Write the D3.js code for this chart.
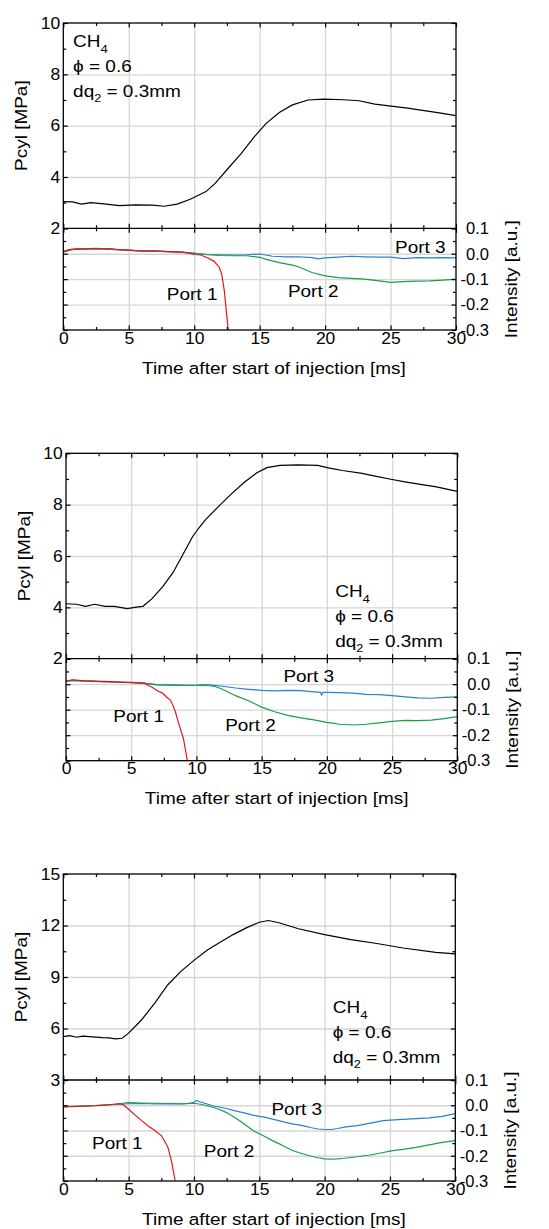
<!DOCTYPE html>
<html>
<head>
<meta charset="utf-8">
<script src="https://cdn.jsdelivr.net/npm/d3@7"></script>
<style>
body { margin: 0; background: #fff; }
svg { display: block; background: #fff; }
svg text { font-family: "Liberation Sans", Arial, sans-serif; font-size: 16.5px; fill: #000; white-space: pre; }
.grid line { stroke: #d6d6d6; stroke-width: 1.3; }
.ticks line { stroke: #000; stroke-width: 1.2; }
</style>
</head>
<body>
<script>
// ---- tick values ----
var timeTicks = [0, 5, 10, 15, 20, 25, 30];
var timeMinor = [2.5, 7.5, 12.5, 17.5, 22.5, 27.5];
var timeGrid = [5, 10, 15, 20, 25];
var pTicksA = [2, 4, 6, 8, 10], pMinorA = [3, 5, 7, 9], pGridA = [4, 6, 8];
var pTicksB = [3, 6, 9, 12, 15], pMinorB = [4.5, 7.5, 10.5, 13.5], pGridB = [6, 9, 12];
var iTicks = [0.1, 0, -0.1, -0.2, -0.3], iMinor = [0.05, -0.05, -0.15, -0.25], iGrid = [0, -0.1, -0.2];
var portNames = ["Port 1", "Port 2", "Port 3"];

// ---- panel 1 ----
var t_pcyl1 = [0,0.7,1.4,2.1,3.1,4.3,5.5,6.8,7.7,8.7,9.7,10.9,11.6,12.6,13.6,14.6,15.5,16.5,17.5,18.7,19.9,21.4,22.6,23.8,26.3,28.6,30];
var pcyl1 = [3.04,3.03,2.94,3.0,2.95,2.88,2.91,2.9,2.86,2.94,3.13,3.43,3.75,4.34,4.92,5.57,6.09,6.51,6.81,7.0,7.03,7.01,6.97,6.84,6.68,6.51,6.39];
var t_port1_1 = [0,0.5,1,1.5,2,2.5,3,3.5,4,5,6,7,8,9,9.5,10,10.5,11,11.5,11.9,12.1,12.3,12.45,12.6];
var port1_1 = [0.008,0.016,0.019,0.018,0.02,0.021,0.019,0.02,0.017,0.014,0.01,0.011,0.008,0.006,0.003,-0.003,-0.005,-0.016,-0.029,-0.052,-0.08,-0.145,-0.223,-0.3];
var t_port2_1 = [0,0.5,1,2,3,4,5,6,7,8,9,10,11,12,13,14,15,15.5,16.5,17.5,18,19,20,21,22,23,24,25,26,27,28,29,30];
var port2_1 = [0.01,0.016,0.018,0.02,0.019,0.016,0.013,0.011,0.01,0.008,0.006,0.001,-0.004,-0.007,-0.008,-0.008,-0.014,-0.022,-0.035,-0.045,-0.052,-0.074,-0.087,-0.094,-0.097,-0.1,-0.106,-0.113,-0.11,-0.108,-0.107,-0.104,-0.1];
var t_port3_1 = [0,0.5,1,2,3,4,5,6,7,8,9,10,11,12,13,14,15,16,17,18,19,19.5,20,21,22,23,24,25,26,27,28,29,30];
var port3_1 = [0.006,0.014,0.018,0.02,0.019,0.017,0.014,0.011,0.01,0.008,0.006,0.002,-0.003,-0.004,-0.005,-0.004,-0.001,-0.01,-0.012,-0.012,-0.015,-0.02,-0.016,-0.013,-0.01,-0.012,-0.013,-0.013,-0.019,-0.015,-0.016,-0.015,-0.016];

// ---- panel 2 ----
var t_pcyl2 = [0,0.8,1.5,2.2,3.0,3.7,4.7,5.4,5.9,6.6,7.4,8.2,8.9,9.7,10.2,10.7,11.7,12.7,13.7,14.6,15.4,16.4,17.8,19.3,20.2,21.2,22.7,23.6,24.9,26.1,27.3,28.4,30];
var pcyl2 = [4.14,4.12,4.04,4.12,4.04,4.04,3.95,4.01,4.04,4.34,4.8,5.35,6.0,6.75,7.1,7.42,7.93,8.43,8.88,9.23,9.44,9.53,9.55,9.53,9.42,9.33,9.22,9.12,8.99,8.88,8.78,8.69,8.52];
var t_port1_2 = [0,0.5,1,1.5,2,2.5,3,4,5,5.5,6,6.2,6.6,7,7.4,7.7,8.0,8.2,8.4,8.6,8.8,9.0,9.15,9.3];
var port1_2 = [0.012,0.017,0.015,0.013,0.012,0.01,0.011,0.008,0.007,0.006,0.004,-0.002,-0.012,-0.026,-0.035,-0.05,-0.062,-0.084,-0.11,-0.148,-0.18,-0.213,-0.255,-0.3];
var t_port2_2 = [0,0.5,1,2,3,4,5,6,7,8,9,10,11,11.5,12,13,14,15,16,17,18,19,20,21,22,23,24,25,26,27,28,29,30];
var port2_2 = [0.012,0.015,0.014,0.012,0.01,0.008,0.006,0.004,-0.002,-0.003,-0.004,-0.005,-0.006,-0.01,-0.02,-0.045,-0.065,-0.09,-0.108,-0.122,-0.132,-0.14,-0.15,-0.157,-0.16,-0.157,-0.152,-0.146,-0.142,-0.143,-0.141,-0.135,-0.127];
var t_port3_2 = [0,0.5,1,2,3,4,5,6,7,8,9,10,10.5,11,12,13,14,15,16,17,18,19,19.5,19.6,19.7,20,21,22,23,24,25,26,27,28,29,30];
var port3_2 = [0.012,0.015,0.013,0.012,0.01,0.008,0.006,0.003,-0.003,-0.004,-0.005,-0.004,-0.002,-0.003,-0.008,-0.015,-0.02,-0.024,-0.026,-0.024,-0.025,-0.03,-0.032,-0.042,-0.032,-0.032,-0.033,-0.035,-0.04,-0.041,-0.045,-0.05,-0.054,-0.055,-0.052,-0.05];

// ---- panel 3 ----
var t_pcyl3 = [0,0.5,1,1.5,2,2.5,3,3.5,4,4.5,5,6,7,8,9,10,11,12,13,14,15,15.7,16.5,18,20,22,24,26,28.5,30];
var pcyl3 = [5.53,5.58,5.49,5.55,5.53,5.5,5.47,5.45,5.4,5.43,5.73,6.51,7.48,8.55,9.33,9.97,10.56,11.03,11.47,11.86,12.19,12.29,12.16,11.81,11.47,11.18,10.95,10.69,10.44,10.35];
var t_port1_3 = [0,0.5,1,1.5,2,2.5,3,3.5,4,4.3,4.6,5,5.5,6,6.5,7,7.5,8,8.3,8.56];
var port1_3 = [-0.008,-0.006,-0.005,-0.004,-0.003,-0.002,0,0.002,0.005,0.006,0.002,-0.016,-0.039,-0.061,-0.082,-0.1,-0.12,-0.165,-0.225,-0.3];
var t_port2_3 = [0,1,2,3,4,4.5,5,6,7,8,9,10,10.5,11,11.5,12,12.5,13,13.5,14,14.5,15,15.5,16,16.5,17,17.5,18,18.5,19,19.5,20,20.5,21,21.5,22,22.5,23,23.5,24,24.5,25,25.5,26,26.5,27,27.5,28,28.5,29,30];
var port2_3 = [-0.005,-0.004,-0.002,0.001,0.004,0.008,0.01,0.009,0.008,0.007,0.006,0.008,0.004,-0.002,-0.009,-0.018,-0.029,-0.045,-0.061,-0.08,-0.1,-0.113,-0.126,-0.14,-0.152,-0.165,-0.178,-0.187,-0.195,-0.202,-0.208,-0.212,-0.213,-0.212,-0.21,-0.207,-0.204,-0.2,-0.197,-0.192,-0.187,-0.182,-0.178,-0.175,-0.171,-0.167,-0.162,-0.157,-0.152,-0.147,-0.14];
var t_port3_3 = [0,1,2,3,4,5,6,7,8,9,9.5,10,10.2,10.5,11,11.5,12,12.5,13,13.5,14,14.5,15,15.5,16,16.5,17,17.5,18,18.5,19,19.5,20,20.5,21,21.5,22,22.5,23,23.5,24,24.5,25,26,27,28,29,30];
var port3_3 = [-0.006,-0.004,-0.002,0.0,0.003,0.006,0.007,0.005,0.006,0.005,0.006,0.012,0.019,0.013,0.005,-0.003,-0.008,-0.013,-0.02,-0.026,-0.032,-0.039,-0.044,-0.048,-0.055,-0.061,-0.068,-0.074,-0.078,-0.083,-0.089,-0.094,-0.096,-0.096,-0.092,-0.087,-0.084,-0.081,-0.076,-0.071,-0.066,-0.061,-0.059,-0.056,-0.053,-0.05,-0.044,-0.033];

// ---- styles / layout ----
var W = 549, H = 1229;
var SX = 1.15;   // words are drawn a bit wider than Arial
var SXN = 1.06;  // tick numbers
var portColors = ["#e8141c", "#1a9e48", "#2a7fd2"];

var panels = [
  { l: 63.3, r: 456, t: 23, m: 228.3, b: 330,
    pDomain: [2, 10], pTicks: pTicksA, pMinor: pMinorA, pGrid: pGridA,
    pcyl: d3.zip(t_pcyl1, pcyl1),
    ports: [d3.zip(t_port1_1, port1_1), d3.zip(t_port2_1, port2_1), d3.zip(t_port3_1, port3_1)],
    labelAt: [[7.91, -0.182], [17.16, -0.169], [25.34, 0.001]],
    noteAt: [0.75, 9.06] },
  { l: 66, r: 457.3, t: 453.3, m: 658.7, b: 760.7,
    pDomain: [2, 10], pTicks: pTicksA, pMinor: pMinorA, pGrid: pGridA,
    pcyl: d3.zip(t_pcyl2, pcyl2),
    ports: [d3.zip(t_port1_2, port1_2), d3.zip(t_port2_2, port2_2), d3.zip(t_port3_2, port3_2)],
    labelAt: [[3.63, -0.148], [12.2, -0.183], [16.67, 0.009]],
    noteAt: [20.64, 4.39] },
  { l: 63.3, r: 455.3, t: 874, m: 1080, b: 1181,
    pDomain: [3, 15], pTicks: pTicksB, pMinor: pMinorB, pGrid: pGridB,
    pcyl: d3.zip(t_pcyl3, pcyl3),
    ports: [d3.zip(t_port1_3, port1_3), d3.zip(t_port2_3, port2_3), d3.zip(t_port3_3, port3_3)],
    labelAt: [[2.2, -0.173], [10.75, -0.204], [15.93, -0.039]],
    noteAt: [20.62, 6.9] }
];

var svg = d3.select("body").append("svg").attr("width", W).attr("height", H);

function put(g, axis, tx, ty, cls) {
  var a = g.append("g")
    .attr("class", cls)
    .attr("transform", "translate(" + tx + "," + ty + ")")
    .call(axis);
  a.select(".domain").remove();
  a.attr("font-size", null).attr("font-family", null);
  return a;
}

function drawPanel(P) {
  var x = d3.scaleLinear().domain([0, 30]).range([P.l, P.r]);
  var yP = d3.scaleLinear().domain(P.pDomain).range([P.m, P.t]);
  var yI = d3.scaleLinear().domain([-0.3, 0.1]).range([P.b, P.m]);
  var g = svg.append("g");

  // grid lines
  put(g, d3.axisBottom(x).tickValues(timeGrid).tickSize(-(P.b - P.t)).tickFormat(""), 0, P.b, "grid");
  put(g, d3.axisLeft(yP).tickValues(P.pGrid).tickSize(-(P.r - P.l)).tickFormat(""), P.l, 0, "grid");
  put(g, d3.axisLeft(yI).tickValues(iGrid).tickSize(-(P.r - P.l)).tickFormat(""), P.l, 0, "grid");

  // pressure trace
  var lineP = d3.line().x(function(d) { return x(d[0]); }).y(function(d) { return yP(d[1]); });
  g.append("path").datum(P.pcyl)
    .attr("d", lineP).attr("fill", "none").attr("stroke", "#000").attr("stroke-width", 1.2);

  // intensity traces (port 3 under, port 1 on top)
  var lineI = d3.line().x(function(d) { return x(d[0]); }).y(function(d) { return yI(d[1]); });
  [2, 1, 0].forEach(function(k) {
    g.append("path").datum(P.ports[k])
      .attr("d", lineI).attr("fill", "none")
      .attr("stroke", portColors[k]).attr("stroke-width", 1.2);
  });

  // frame and divider
  g.append("rect").attr("x", P.l).attr("y", P.t)
    .attr("width", P.r - P.l).attr("height", P.b - P.t)
    .attr("fill", "none").attr("stroke", "#000").attr("stroke-width", 1.3);
  g.append("line").attr("x1", P.l).attr("x2", P.r).attr("y1", P.m).attr("y2", P.m)
    .attr("stroke", "#000").attr("stroke-width", 1.3);

  // inward ticks, all sides of both panes
  var MJ = -4.5, MN = -3;
  [P.t, P.m].forEach(function(yy) {
    put(g, d3.axisTop(x).tickValues(timeTicks).tickSize(MJ).tickFormat(""), 0, yy, "ticks");
    put(g, d3.axisTop(x).tickValues(timeMinor).tickSize(MN).tickFormat(""), 0, yy, "ticks");
  });
  put(g, d3.axisBottom(x).tickValues(timeTicks).tickSize(MJ).tickFormat(""), 0, P.m, "ticks");
  put(g, d3.axisBottom(x).tickValues(timeMinor).tickSize(MN).tickFormat(""), 0, P.m, "ticks");
  put(g, d3.axisBottom(x).tickValues(timeMinor).tickSize(MN).tickFormat(""), 0, P.b, "ticks");
  var xa = put(g, d3.axisBottom(x).tickValues(timeTicks).tickSize(MJ).tickPadding(2)
    .tickFormat(d3.format("d")), 0, P.b, "ticks");
  xa.selectAll("text").attr("transform", "scale(" + SXN + ",1)");

  var ya = put(g, d3.axisLeft(yP).tickValues(P.pTicks).tickSize(MJ).tickPadding(3)
    .tickFormat(d3.format("d")), P.l, 0, "ticks");
  ya.selectAll("text").attr("transform", "scale(" + SXN + ",1)");
  put(g, d3.axisLeft(yP).tickValues(P.pMinor).tickSize(MN).tickFormat(""), P.l, 0, "ticks");
  put(g, d3.axisRight(yP).tickValues(P.pTicks).tickSize(MJ).tickFormat(""), P.r, 0, "ticks");
  put(g, d3.axisRight(yP).tickValues(P.pMinor).tickSize(MN).tickFormat(""), P.r, 0, "ticks");

  put(g, d3.axisLeft(yI).tickValues(iTicks).tickSize(MJ).tickFormat(""), P.l, 0, "ticks");
  put(g, d3.axisLeft(yI).tickValues(iMinor).tickSize(MN).tickFormat(""), P.l, 0, "ticks");
  put(g, d3.axisRight(yI).tickValues(iMinor).tickSize(MN).tickFormat(""), P.r, 0, "ticks");
  // right-aligned labels, kept clear of the axis line
  var ia = put(g, d3.axisRight(yI).tickValues(iTicks).tickSize(MJ)
    .tickFormat(function(d) { return d.toFixed(1); }), P.r, 0, "ticks");
  ia.selectAll("text")
    .attr("text-anchor", "end")
    .attr("x", 33);

  // axis titles
  g.append("text")
    .attr("transform", "translate(" + (P.l + 210.7) + "," + (P.b + 43.7) + ") scale(" + SX + ",1)")
    .attr("text-anchor", "middle")
    .text("Time after start of injection [ms]");
  g.append("text")
    .attr("transform", "translate(" + (P.l - 36.5) + "," + ((P.t + P.m) / 2) + ") rotate(-90) scale(" + SX + ",1)")
    .attr("text-anchor", "middle")
    .text("Pcyl [MPa]");
  g.append("text")
    .attr("transform", "translate(" + (P.r + 60.5) + "," + ((P.m + P.b) / 2) + ") rotate(-90) scale(" + SX + ",1)")
    .attr("text-anchor", "middle")
    .text("Intensity [a.u.]");

  // port labels
  P.labelAt.forEach(function(pos, k) {
    g.append("text")
      .attr("transform", "translate(" + x(pos[0]) + "," + yI(pos[1]) + ") scale(" + SX + ",1)")
      .text(portNames[k]);
  });

  // condition note
  var nx = x(P.noteAt[0]), ny = yP(P.noteAt[1]);
  var n1 = g.append("text").attr("transform", "translate(" + nx + "," + ny + ") scale(" + SX + ",1)");
  n1.append("tspan").text("CH");
  n1.append("tspan").style("font-size", "11.5px").attr("dy", 5.5).text("4");
  g.append("text").attr("transform", "translate(" + nx + "," + (ny + 25) + ") scale(" + SX + ",1)")
    .text("\u03D5 = 0.6");
  var n3 = g.append("text").attr("transform", "translate(" + nx + "," + (ny + 50) + ") scale(" + SX + ",1)");
  n3.append("tspan").text("dq");
  n3.append("tspan").style("font-size", "11px").attr("dy", 5).text("2");
  n3.append("tspan").attr("dy", -5).text(" = 0.3mm");
}

panels.forEach(drawPanel);
</script>
</body>
</html>
